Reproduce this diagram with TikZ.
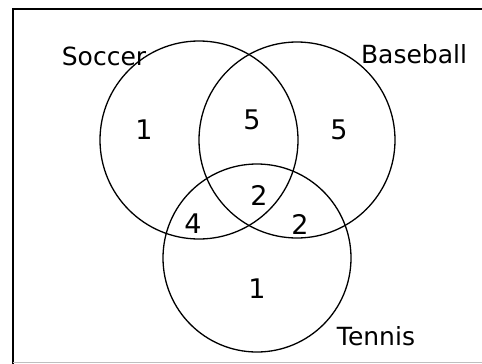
\documentclass[tikz,border=0pt]{standalone}
\usepackage{fontspec}
\setmainfont{DejaVu Sans}
\begin{document}
\begin{tikzpicture}[x=1pt,y=-1pt,
  set/.style={draw=black,line width=1.3pt,circle,minimum size=#1,inner sep=0pt},
  lbl/.style={font=\fontsize{25}{28}\selectfont,inner sep=0pt},
  num/.style={font=\fontsize{27}{30}\selectfont,inner sep=0pt}]
\useasboundingbox (0,0) rectangle (482,364);
\draw[line width=1.6pt] (13,364) -- (13,9) -- (482,9);
\draw[line width=0.6pt,black!25] (13,362) -- (482,362);
\node[set=198pt] (soccer) at (199,140) {};
\node[set=196pt] (baseball) at (297,140) {};
\node[set=188pt] (tennis) at (257,258) {};
\node[lbl] (ls) at (104,56) {Soccer};
\node[lbl] (lb) at (414,54) {Baseball};
\node[lbl] (lt) at (376,336) {Tennis};
\node[num] (n1) at (144,130) {1};
\node[num] (n2) at (252,120) {5};
\node[num] (n3) at (339,130) {5};
\node[num] (n4) at (259,195) {2};
\node[num] (n5) at (193,224) {4};
\node[num] (n6) at (300,224) {2};
\node[num] (n7) at (257,289) {1};
\end{tikzpicture}
\end{document}
